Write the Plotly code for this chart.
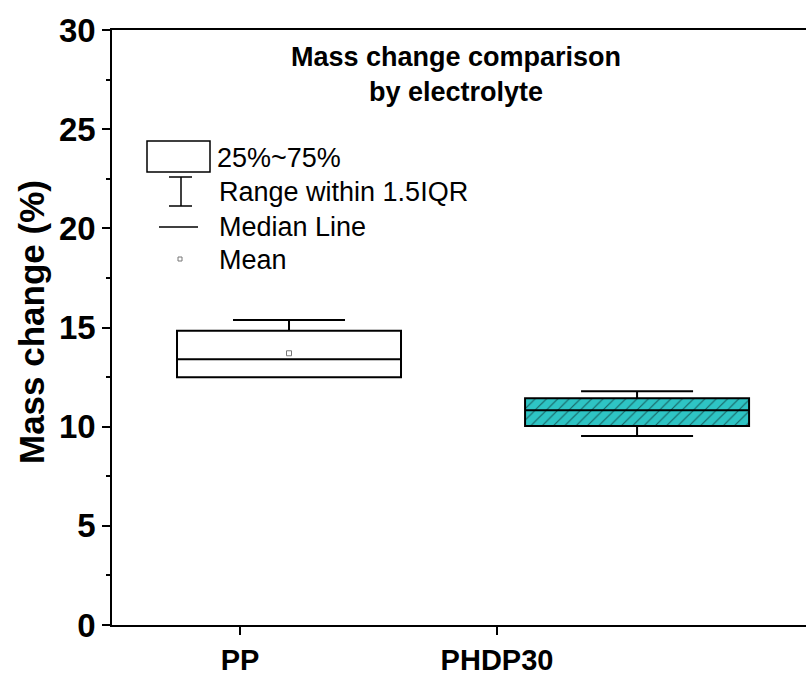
import plotly.graph_objects as go

# ---- data ----
categories = ["PP", "PHDP30"]
q1 = [12.49, 10.03]
median = [13.40, 10.83]
q3 = [14.84, 11.43]
lower_whisker = [12.49, 9.53]
upper_whisker = [15.38, 11.78]
mean = [13.70, 10.83]

tick_positions = [1, 2]
box_positions = [1.1907, 2.545]   # boxes drawn offset from the category ticks (as in the reference)
box_width = 0.8716

FONT = "Liberation Sans, Arial, sans-serif"
W, H = 806, 675
L, T, B, R = 112, 30, 50, 0
PW, PH = W - L - R, H - T - B

def px(x):   # screen pixel -> paper
    return (x - L) / PW

def py(y):
    return (H - B - y) / PH

fig = go.Figure()

# hatched fill for PHDP30 box
fig.add_trace(go.Bar(
    x=[box_positions[1]], y=[q3[1] - q1[1]], base=[q1[1]], width=box_width,
    marker=dict(color="#2EC4C4", line=dict(width=0),
                pattern=dict(shape="/", fgcolor="black", size=8, solidity=0.14)),
    showlegend=False, hoverinfo="skip",
))

fills = ["white", "rgba(0,0,0,0)"]
for i in range(2):
    fig.add_trace(go.Box(
        x=[box_positions[i]], q1=[q1[i]], median=[median[i]], q3=[q3[i]],
        lowerfence=[lower_whisker[i]], upperfence=[upper_whisker[i]],
        width=box_width, whiskerwidth=0.5, fillcolor=fills[i],
        line=dict(color="black", width=2), boxpoints=False,
        showlegend=False, name=categories[i],
    ))

fig.add_trace(go.Scatter(
    x=box_positions[:1], y=mean[:1], mode="markers",
    marker=dict(symbol="square-open", size=5, color="#777777", line=dict(width=1)),
    showlegend=False,
))

# ---- custom legend (Origin style) ----
shapes = []
def pl(x0, y0, x1, y1, **kw):
    shapes.append(dict(type="line", xref="paper", yref="paper",
                       x0=px(x0), y0=py(y0), x1=px(x1), y1=py(y1),
                       line=dict(color=kw.get("color", "black"), width=kw.get("width", 1.5))))

shapes.append(dict(type="rect", xref="paper", yref="paper",
                   x0=px(147), x1=px(210), y0=py(172), y1=py(141),
                   line=dict(color="black", width=1.5), fillcolor="white"))
pl(181, 177, 181, 206)
pl(169, 177, 192, 177)
pl(169, 206, 192, 206)
pl(159, 227, 198, 227)
shapes.append(dict(type="rect", xref="paper", yref="paper",
                   x0=px(178), x1=px(182), y0=py(261), y1=py(257),
                   line=dict(color="#777777", width=1), fillcolor="white"))

annotations = []
for txt, x, y in [("25%~75%", 215, 158), ("Range within 1.5IQR", 217, 192),
                  ("Median Line", 217, 227), ("Mean", 217, 260)]:
    annotations.append(dict(text=txt, xref="paper", yref="paper", x=px(x), y=py(y),
                            xanchor="left", yanchor="middle", showarrow=False,
                            font=dict(family=FONT, size=27, color="black")))

annotations.append(dict(text="<b>Mass change comparison<br>by electrolyte</b>",
                        xref="paper", yref="paper", x=px(456), y=py(40),
                        xanchor="center", yanchor="top", showarrow=False, align="center",
                        font=dict(family=FONT, size=27, color="black")))

annotations.append(dict(text="<b>Mass change (%)</b>", textangle=-90,
                        xref="paper", yref="paper", x=px(31), y=py(322),
                        xanchor="center", yanchor="middle", showarrow=False,
                        font=dict(family=FONT, size=35, color="black")))

fig.update_layout(
    width=W, height=H,
    margin=dict(l=L, r=R, t=T, b=B, autoexpand=False),
    paper_bgcolor="white", plot_bgcolor="white",
    boxmode="overlay", barmode="overlay",
    shapes=shapes, annotations=annotations,
    xaxis=dict(range=[1 - 128 / 257, 1 + (W - 240) / 257], automargin=False,
               tickvals=tick_positions, ticktext=[f"<b>{c}</b>" for c in categories],
               ticks="outside", ticklen=8, tickwidth=1.5, tickcolor="black",
               showline=True, linecolor="black", linewidth=1.5, mirror=True,
               showgrid=False, zeroline=False,
               tickfont=dict(family=FONT, size=29, color="black")),
    yaxis=dict(range=[0, 30], tickvals=[0, 5, 10, 15, 20, 25, 30], automargin=False,
               ticktext=[f"<b>{v}</b>" for v in [0, 5, 10, 15, 20, 25, 30]],
               ticks="outside", ticklen=8, tickwidth=1.5, tickcolor="black",
               minor=dict(dtick=2.5, ticks="outside", ticklen=4, tickwidth=1.5, tickcolor="black"),
               showline=True, linecolor="black", linewidth=1.5,
               showgrid=False, zeroline=False,
               tickfont=dict(family=FONT, size=33, color="black")),
)

fig.write_html("out.html", config={"displayModeBar": False},
               post_script="document.body.style.margin='0';document.body.style.overflow='hidden';")
